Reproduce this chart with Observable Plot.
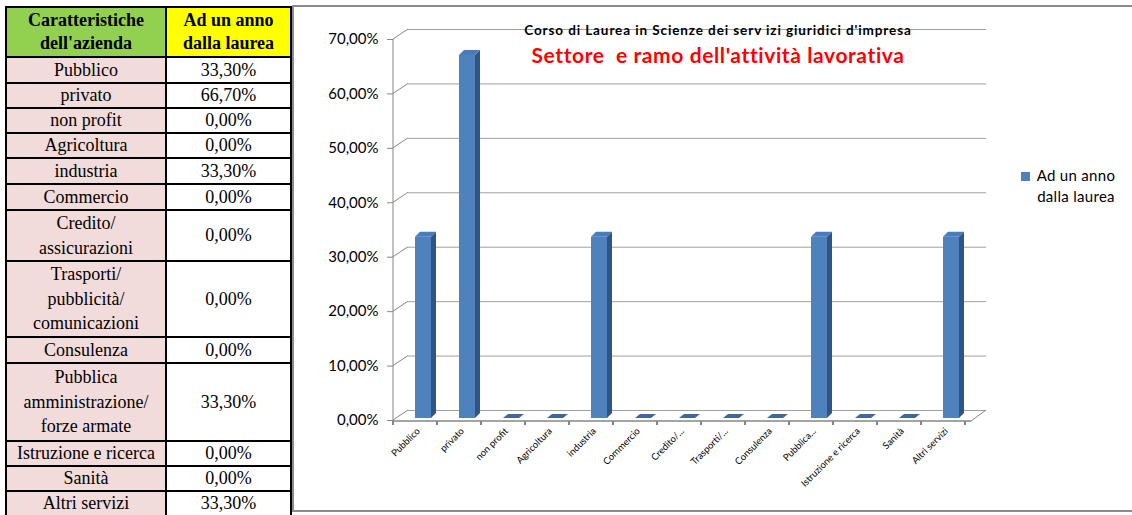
<!DOCTYPE html>
<html><head><meta charset="utf-8">
<script src="https://cdn.jsdelivr.net/npm/d3@7"></script>
<script src="https://cdn.jsdelivr.net/npm/@observablehq/plot@0.6"></script>
<style>
html,body{margin:0;padding:0;background:#fff;}
body{width:1132px;height:515px;overflow:hidden;position:relative;font-family:Lato,"Noto Sans",sans-serif;}
#tbl{position:absolute;left:5px;top:6px;border-collapse:collapse;font-family:"Liberation Serif","Times New Roman",serif;font-size:18px;color:#000;table-layout:fixed;}
#tbl td{border:2px solid #000;text-align:center;vertical-align:middle;padding:0;line-height:21px;white-space:nowrap;overflow:hidden;}
#tbl td.m{line-height:24.5px;}
#tbl td.l{background:#f2dcdb;}
#tbl td.r{background:#fff;}
#tbl th{border:2px solid #000;font-weight:bold;line-height:23px;padding:0;}
#box{position:absolute;left:292px;top:5px;width:850px;height:507px;border:2px solid #8c8c8c;box-sizing:border-box;background:#fff;}
#plot{position:absolute;left:293px;top:6px;}
.t1{position:absolute;left:468px;width:500px;top:22px;text-align:center;font-weight:bold;font-size:13.5px;letter-spacing:0.9px;color:#000;white-space:nowrap;}
.t2{position:absolute;left:418px;width:600px;top:42px;text-align:center;font-weight:bold;font-size:21px;letter-spacing:0.6px;color:#ff0000;white-space:pre;}
#legend{position:absolute;left:1020px;top:165px;font-size:15px;letter-spacing:0.3px;color:#000;}
#legend .sw{position:absolute;left:1px;top:7px;width:9px;height:9px;background:#4f81bd;}
#legend .tx{position:absolute;left:2px;top:0;width:108px;text-align:center;line-height:21px;white-space:nowrap;}
</style>
</head>
<body>
<table id="tbl"></table>
<div id="box"></div>
<div id="plot"></div>
<div class="t1">Corso di Laurea in Scienze dei serv izi giuridici d'impresa</div>
<div class="t2">Settore  e ramo dell'attività lavorativa</div>
<div id="legend"><div class="sw"></div><div class="tx"></div></div>
<script>
// ---- data ----
const headerLeft = ["Caratteristiche", "dell'azienda"];
const headerRight = ["Ad un anno", "dalla laurea"];
const legendLines = ["Ad un anno", "dalla laurea"];
const tableLabels = [
  ["Pubblico"], ["privato"], ["non profit"], ["Agricoltura"], ["industria"], ["Commercio"],
  ["Credito/", "assicurazioni"], ["Trasporti/", "pubblicità/", "comunicazioni"], ["Consulenza"],
  ["Pubblica", "amministrazione/", "forze armate"], ["Istruzione e ricerca"], ["Sanità"], ["Altri servizi"]
];
const axisLabels = ["Pubblico", "privato", "non profit", "Agricoltura", "industria", "Commercio",
  "Credito/...", "Trasporti/...", "Consulenza", "Pubblica...", "Istruzione e ricerca", "Sanità", "Altri servizi"];
const values = [33.3, 66.7, 0, 0, 33.3, 0, 0, 0, 0, 33.3, 0, 0, 33.3];
const yTicks = [0, 10, 20, 30, 40, 50, 60, 70];

// ---- table ----
const rowHeights = [26, 25, 25, 25, 26, 26, 51, 76, 26, 78, 25, 25, 25];
const tbl = document.getElementById("tbl");
const colg = document.createElement("colgroup");
colg.innerHTML = '<col style="width:160px"><col style="width:125px">';
tbl.appendChild(colg);
const hr = document.createElement("tr");
hr.style.height = "50px";
hr.innerHTML = `<th style="background:#92d050">${headerLeft.join("<br>")}</th><th style="background:#ffff00">${headerRight.join("<br>")}</th>`;
tbl.appendChild(hr);
const loc = d3.formatLocale({decimal: ",", thousands: ".", grouping: [3], currency: ["", "€"]});
const pct = loc.format(".2%");
tableLabels.forEach((lines, i) => {
  const tr = document.createElement("tr");
  tr.style.height = rowHeights[i] + "px";
  const m = lines.length > 1 ? " m" : "";
  tr.innerHTML = `<td class="l${m}">${lines.join("<br>")}</td><td class="r">${pct(values[i] / 100)}</td>`;
  tbl.appendChild(tr);
});
document.querySelector("#legend .tx").innerHTML = legendLines.join("<br>");

// ---- chart ----
const rows = axisLabels.map((c, i) => ({cat: c, v: values[i] / 100}));
const DX = 15, DY = -10, BDX = 5, BDY = -5, INL = 19, INR = 9, BASE = -2;

function frameMark(index, scales, vals, dims) {
  const {x, y} = scales;
  const g = d3.create("svg:g").attr("fill", "none").attr("stroke", "#868686");
  const step = x(axisLabels[1]) - x(axisLabels[0]);
  const x0 = dims.marginLeft, x1 = dims.width - dims.marginRight;
  const y0 = y(0);
  g.append("line").attr("x1", x0).attr("x2", x0).attr("y1", y(0.7)).attr("y2", y0);
  for (const t of yTicks) {
    g.append("line").attr("x1", x0).attr("y1", y(t / 100)).attr("x2", x0 + DX).attr("y2", y(t / 100) + DY);
  }
  g.append("line").attr("x1", x0).attr("x2", x1).attr("y1", y0 + 1).attr("y2", y0 + 1).attr("stroke-width", 1.5);
  g.append("line").attr("x1", x1).attr("y1", y0 + 1).attr("x2", x1 + DX).attr("y2", y0 + DY);
  for (let i = 0; i <= axisLabels.length; i++) {
    const xx = x0 + i * step;
    g.append("line").attr("x1", xx).attr("x2", xx).attr("y1", y0 + 1).attr("y2", y0 + 5).attr("stroke-width", 2);
  }
  return g.node();
}

function extrudeMark(index, scales, vals, dims) {
  const {x, y} = scales;
  const g = d3.create("svg:g");
  const step = x(axisLabels[1]) - x(axisLabels[0]);
  const fw = step - INL - INR;
  for (const r of rows) {
    const fx = x(r.cat) + INL;
    const base = y(0) + BASE, top = y(r.v) + BASE;
    if (r.v > 0) {
      g.append("polygon").attr("fill", "#2f5584")
        .attr("points", [[fx + fw, top], [fx + fw + BDX, top + BDY], [fx + fw + BDX, base + BDY], [fx + fw, base]].join(" "));
      g.append("polygon").attr("fill", "#4a7bbd")
        .attr("points", [[fx, top], [fx + BDX, top + BDY], [fx + fw + BDX, top + BDY], [fx + fw, top]].join(" "));
    } else {
      g.append("polygon").attr("fill", "#3d679e")
        .attr("points", [[fx, top], [fx + BDX, top + BDY + 1], [fx + fw + BDX, top + BDY + 1], [fx + fw, top]].join(" "));
    }
  }
  return g.node();
}

const chart = Plot.plot({
  width: 700, height: 505,
  marginLeft: 100, marginRight: 22, marginTop: 33, marginBottom: 91,
  style: {fontFamily: "Lato, 'Noto Sans', sans-serif", background: "transparent", overflow: "visible", color: "#000"},
  x: {domain: axisLabels, padding: 0, label: null},
  y: {domain: [0, 0.7], label: null},
  marks: [
    Plot.ruleY(yTicks.map(t => t / 100), {stroke: "#a0a0a0", strokeWidth: 1, dx: DX, dy: DY}),
    frameMark,
    Plot.barY(rows, {x: "cat", y: "v", fill: "#4f81bd", insetLeft: INL, insetRight: INR, dy: BASE}),
    extrudeMark,
    Plot.axisY({ticks: yTicks.map(t => t / 100), tickFormat: pct, tickSize: 6, tickPadding: 9, fontSize: 15, stroke: "#868686", fill: "#000"}),
    Plot.axisX({tickRotate: -45, tickSize: 0, tickPadding: 9, fontSize: 9.5, fill: "#000"})
  ]
});
document.getElementById("plot").appendChild(chart);
</script>
</body></html>
